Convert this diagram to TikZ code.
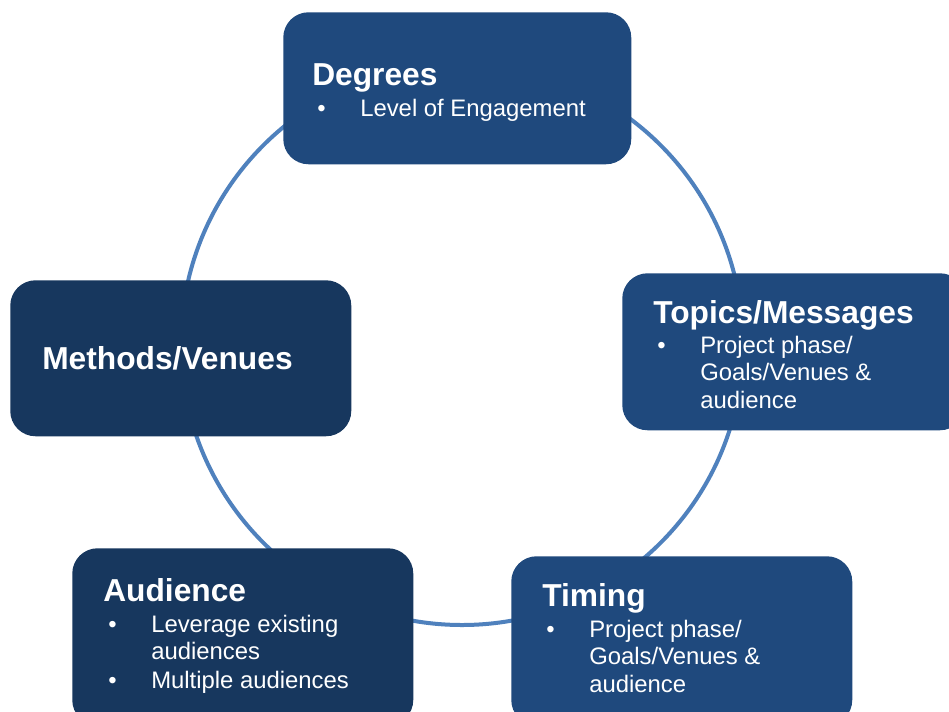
\documentclass[tikz,border=0pt]{standalone}
\usepackage{fontspec}
\setmainfont{Liberation Sans}
\definecolor{boxA}{HTML}{1F497D}
\definecolor{boxB}{HTML}{17375E}
\definecolor{ring}{HTML}{4F81BD}
\begin{document}
\begin{tikzpicture}[x=0.75pt,y=-0.75pt,
  box/.style={rounded corners=19pt, anchor=north west, inner sep=0pt, draw=none},
  ttl/.style={anchor=base west, inner sep=0pt, text=white, font=\fontsize{23.8}{28}\selectfont\bfseries},
  txt/.style={anchor=base west, inner sep=0pt, text=white, font=\fontsize{17.9}{20.6}\selectfont},
  ringline/.style={draw=ring, line width=3pt}]
\useasboundingbox (0,0) rectangle (949,711);
\clip (0,0) rectangle (949,711);
\fill[white] (0,0) rectangle (949,711);
\coordinate (ctr) at (462,344);
\draw[ringline] (ctr) circle[radius=210.75pt];
% boxes
\node[box, fill=boxA, minimum width=261pt, minimum height=114pt] (deg) at (283,12) {};
\node[box, fill=boxA, minimum width=257.25pt, minimum height=117.75pt] (top) at (622,273) {};
\node[box, fill=boxB, minimum width=255.75pt, minimum height=117pt] (met) at (10,280) {};
\node[box, fill=boxB, minimum width=255.75pt, minimum height=132.75pt] (aud) at (72,548) {};
\node[box, fill=boxA, minimum width=255.75pt, minimum height=126.75pt] (tim) at (511,556) {};
% Degrees
\node[ttl] (degT) at (312,85) {Degrees};
\node[txt] (degB) at (317,116) {•};
\node[txt] (degL) at (360,116) {Level of Engagement};
% Topics
\node[ttl] (topT) at (653,323) {Topics/Messages};
\node[txt] (topB) at (657,353) {•};
\node[txt] (topL1) at (700,353) {Project phase/};
\node[txt] (topL2) at (700,380.5) {Goals/Venues \&};
\node[txt] (topL3) at (700,408) {audience};
% Methods
\node[ttl] (metT) at (42,369) {Methods/Venues};
% Audience
\node[ttl] (audT) at (103,601) {Audience};
\node[txt] (audB1) at (108,632) {•};
\node[txt] (audL1) at (151,632) {Leverage existing};
\node[txt] (audL2) at (151,659.5) {audiences};
\node[txt] (audB2) at (108,688) {•};
\node[txt] (audL3) at (151,688) {Multiple audiences};
% Timing
\node[ttl] (timT) at (542,606) {Timing};
\node[txt] (timB) at (546,637) {•};
\node[txt] (timL1) at (589,637) {Project phase/};
\node[txt] (timL2) at (589,664.5) {Goals/Venues \&};
\node[txt] (timL3) at (589,692) {audience};
\end{tikzpicture}
\end{document}
